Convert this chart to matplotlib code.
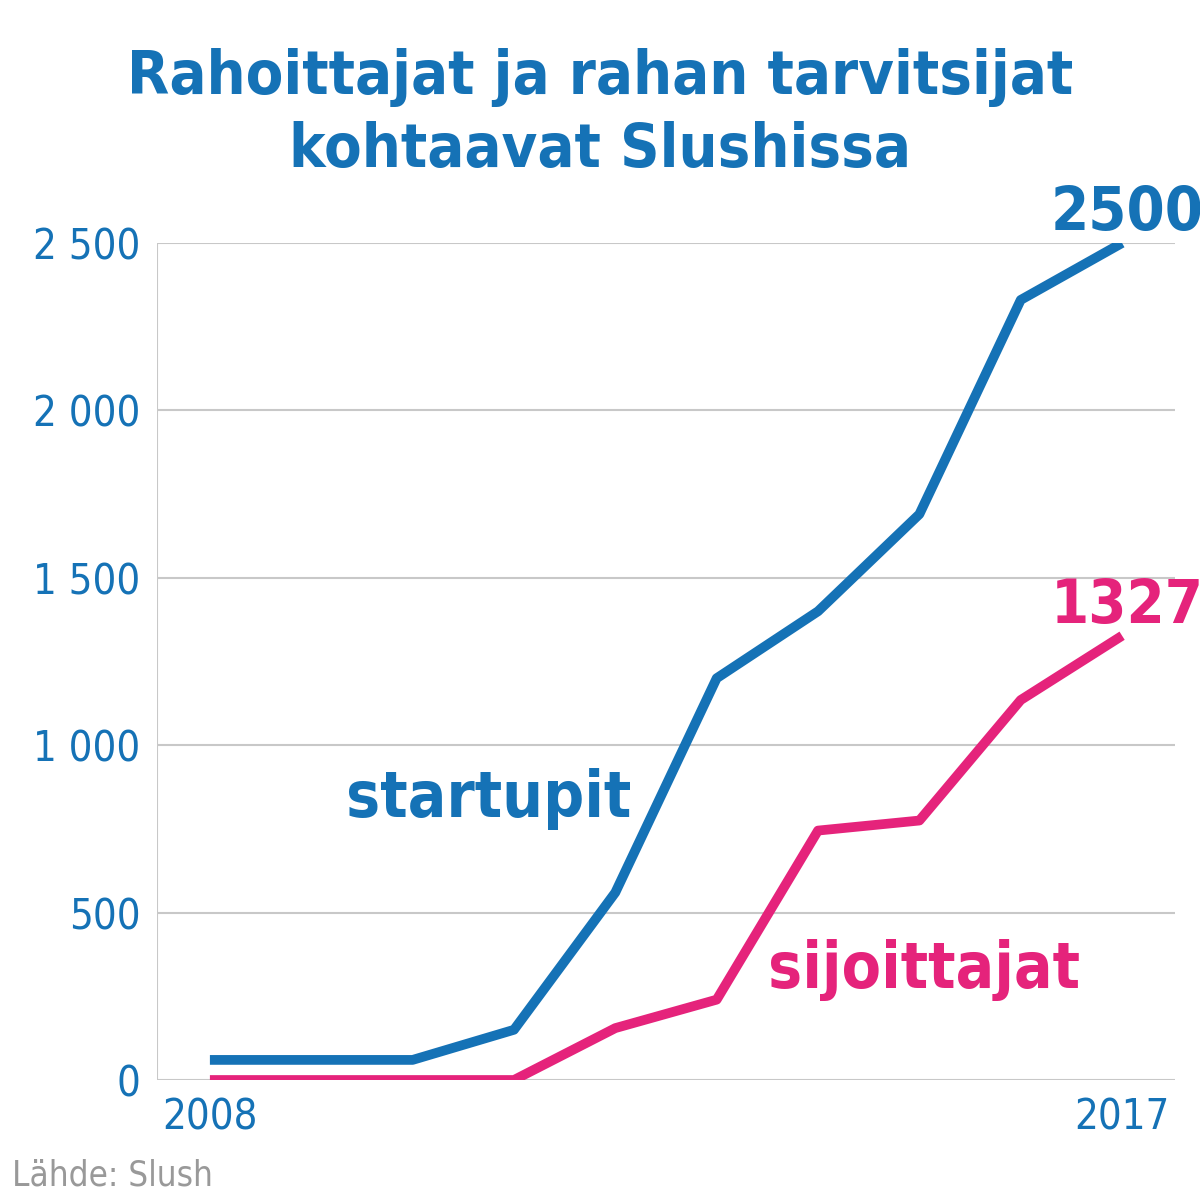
import matplotlib
matplotlib.use("Agg")
from matplotlib import pyplot as plt

plt.rcParams["font.family"] = "DejaVu Sans"
plt.rcParams["font.stretch"] = "condensed"

years = [2008, 2009, 2010, 2011, 2012, 2013, 2014, 2015, 2016, 2017]
startupit = [60, 60, 60, 150, 560, 1200, 1400, 1690, 2330, 2500]
sijoittajat = [0, 0, 0, 0, 155, 240, 745, 775, 1135, 1327]
yticks = [0, 500, 1000, 1500, 2000, 2500]
ylabels = ["0", "500", "1 000", "1 500", "2 000", "2 500"]

blue = "#1572b6"
pink = "#e5237b"

fig = plt.figure(figsize=(12, 12), dpi=100)
ax = fig.add_axes([0.131, 0.1, 0.848, 0.6975])
ax.plot(years, startupit, color=blue, lw=7, solid_capstyle="butt")
ax.plot(years, sijoittajat, color=pink, lw=7, solid_capstyle="butt")
ax.set_xlim(2008 - 0.52, 2017 + 0.52)
ax.set_ylim(0, 2500)
ax.set_yticks(yticks)
ax.set_yticklabels(ylabels, fontsize=30, color=blue)
ax.set_xticks([2008, 2017])
ax.set_xticklabels(["2008", "2017"], fontsize=30, color=blue)
ax.tick_params(length=0, pad=12)
ax.grid(axis="y", color="#c8c8c8", lw=1.5)
ax.set_axisbelow(True)
for s in ax.spines.values():
    s.set_visible(False)
ax.axvline(2008 - 0.52, color="#c8c8c8", lw=1.5)

ax.text(2017.05, 2500, "2500", fontsize=44, fontweight="bold", color=blue, ha="center", va="bottom")
ax.text(2017.05, 1327, "1327", fontsize=44, fontweight="bold", color=pink, ha="center", va="bottom")
ax.text(2010.75, 840, "startupit", fontsize=46, fontweight="bold", color=blue, ha="center", va="center")
ax.text(2015.05, 330, "sijoittajat", fontsize=46, fontweight="bold", color=pink, ha="center", va="center")

fig.text(0.5, 0.905, "Rahoittajat ja rahan tarvitsijat\nkohtaavat Slushissa", fontsize=44,
         fontweight="bold", color=blue, ha="center", va="center", linespacing=1.3)
fig.text(0.01, 0.02, "Lähde: Slush", fontsize=25, color="#999999", ha="left", va="center")

fig.savefig("out.png", dpi=100)
